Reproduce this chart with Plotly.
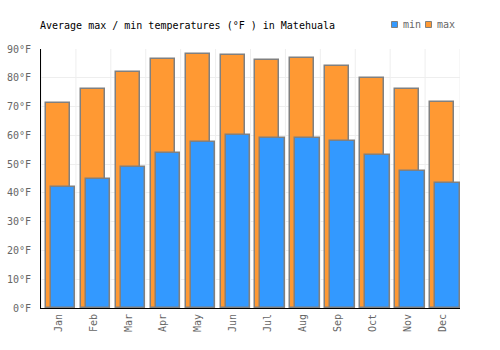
import plotly.graph_objects as go

months = ["Jan", "Feb", "Mar", "Apr", "May", "Jun", "Jul", "Aug", "Sep", "Oct", "Nov", "Dec"]
max_f = [71.2, 76.1, 82.0, 86.5, 88.3, 87.9, 86.2, 86.9, 84.1, 79.9, 76.1, 71.6]
min_f = [42.0, 44.8, 49.1, 53.8, 57.7, 60.1, 59.1, 59.1, 58.0, 53.2, 47.6, 43.5]
y_ticks = [0, 10, 20, 30, 40, 50, 60, 70, 80, 90]
y_labels = [f"{v}°F" for v in y_ticks]

FONT = "DejaVu Sans Mono"
C_MAX = "#ff9933"
C_MIN = "#3399ff"
EDGE = "#808080"

fig = go.Figure()
fig.add_trace(go.Bar(
    x=months, y=max_f, name="max",
    marker=dict(color=C_MAX, line=dict(color=EDGE, width=1.5)),
    offset=-0.357, width=0.686, showlegend=False,
))
fig.add_trace(go.Bar(
    x=months, y=min_f, name="min",
    marker=dict(color=C_MIN, line=dict(color=EDGE, width=1.5)),
    offset=-0.214, width=0.70, showlegend=False,
))

# plot area: x 41..460, y 49..308 (pixels)
def px(x):
    return (x - 41) / 419

def py(y):
    return (308 - y) / 259

shapes = []
for i in range(len(months) + 1):
    shapes.append(dict(type="line", xref="x", yref="paper", x0=i - 0.5, x1=i - 0.5, y0=0, y1=1,
                       line=dict(color="#eeeeee", width=1), layer="below"))

annotations = []
legend_items = [("min", C_MIN, 391.5, 401), ("max", C_MAX, 425.5, 434.5)]
for name, col, sx, tx in legend_items:
    shapes.append(dict(type="rect", xref="paper", yref="paper",
                       x0=px(sx), x1=px(sx + 6), y0=py(27.5), y1=py(21.5),
                       fillcolor=col, line=dict(color=EDGE, width=1)))
    annotations.append(dict(text=name, xref="paper", yref="paper", x=px(tx), y=py(24.5),
                            xanchor="left", yanchor="middle", showarrow=False,
                            font=dict(family=FONT, size=10, color="#666666")))

fig.update_layout(
    width=500, height=350,
    margin=dict(l=41, r=40, t=49, b=42, autoexpand=False),
    paper_bgcolor="white", plot_bgcolor="white",
    barmode="overlay",
    bargap=0,
    showlegend=False,
    font=dict(family=FONT, size=10, color="#666666"),
    title=dict(text="Average max / min temperatures (°F ) in Matehuala",
               font=dict(family=FONT, size=10, color="#000000"),
               x=40/500, xanchor="left", xref="container",
               y=1-25/350, yanchor="middle", yref="container"),
    xaxis=dict(type="category", showline=True, linecolor="#000000", linewidth=1,
               showgrid=False, tickangle=-90, ticks="", range=[-0.5, 11.5],
               ticklabelstandoff=1, automargin=False,
               tickfont=dict(family=FONT, size=10, color="#666666")),
    yaxis=dict(range=[0, 90], tickvals=y_ticks, ticktext=y_labels, showline=True,
               linecolor="#000000", linewidth=1, gridcolor="#eeeeee", zeroline=False,
               ticks="", ticklabelstandoff=7, automargin=False,
               tickfont=dict(family=FONT, size=10, color="#666666")),
    shapes=shapes,
    annotations=annotations,
)

fig.write_html("out.html")
